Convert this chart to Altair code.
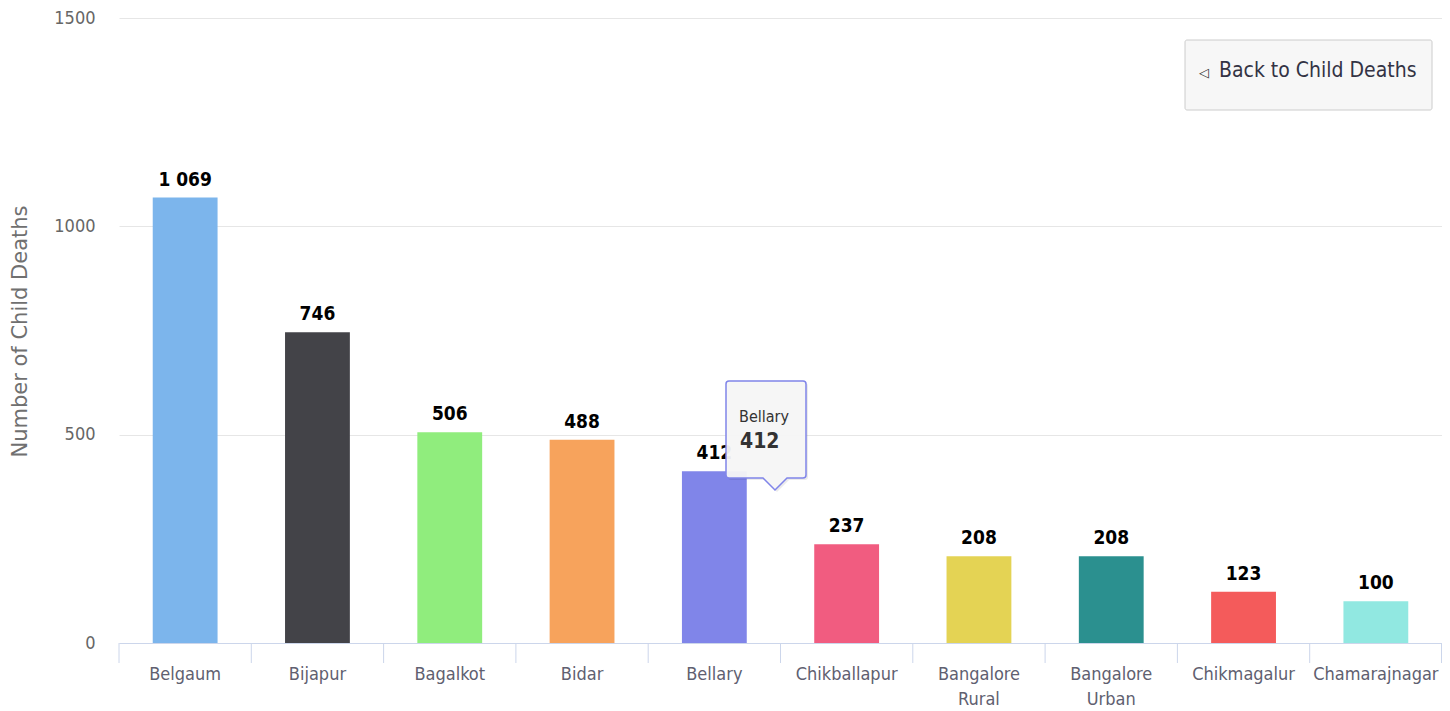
import altair as alt
import pandas as pd

categories = ["Belgaum", "Bijapur", "Bagalkot", "Bidar", "Bellary", "Chikballapur",
              "Bangalore Rural", "Bangalore Urban", "Chikmagalur", "Chamarajnagar"]
values = [1069, 746, 506, 488, 412, 237, 208, 208, 123, 100]
colors = ["#7cb5ec", "#434348", "#90ed7d", "#f7a35c", "#8085e9",
          "#f15c80", "#e4d354", "#2b908f", "#f45b5b", "#91e8e1"]
y_ticks = [0, 500, 1000, 1500]
y_title = "Number of Child Deaths"
button_label = "Back to Child Deaths"
tooltip_cat = "Bellary"
tooltip_val = 412

W, H = 1323, 625
STEP = W / len(categories)
FONT = "Liberation Sans Narrow, DejaVu Sans Condensed, Open Sans, sans-serif"

df = pd.DataFrame({"cat": categories, "v": values})

x_enc = alt.X("cat:N", sort=None,
              scale=alt.Scale(domain=categories, paddingInner=0.51, paddingOuter=0.255),
              axis=alt.Axis(title=None, labelAngle=0, ticks=False, domain=True,
                            domainColor="#ccd6eb", domainWidth=1,
                            labelFont=FONT, labelFontSize=18, labelColor="#606070",
                            labelPadding=22, labelLineHeight=25,
                            labelExpr="split(datum.label, ' ')"))
y_enc = alt.Y("v:Q", scale=alt.Scale(domain=[0, 1500], nice=False),
              axis=alt.Axis(values=y_ticks, format="d", ticks=False, domain=False, grid=True,
                            gridColor="#e6e6e6", gridWidth=1,
                            labelFont=FONT, labelFontSize=18, labelColor="#666666",
                            labelPadding=24, title=y_title, titleFont="DejaVu Sans",
                            titleFontSize=21, titleFontWeight="normal",
                            titleColor="#707070", titleX=-99, titleY=313,
                            titleAngle=270, titleAlign="center", titleBaseline="middle"))

base = alt.Chart(df)

bars = base.mark_bar().encode(
    x=x_enc, y=y_enc,
    color=alt.Color("cat:N", scale=alt.Scale(domain=categories, range=colors), legend=None),
)

labels = base.transform_calculate(
    lab="replace(format(datum.v, ','), ',', ' ')"
).mark_text(baseline="alphabetic", dy=-12, fontSize=19, fontWeight="bold",
            font=FONT, color="#000000").encode(
    x=alt.X("cat:N", sort=None), y="v:Q", text="lab:N")

ticks = base.mark_rule(color="#ccd6eb", strokeWidth=1, xOffset=-STEP / 2).encode(
    x=alt.X("cat:N", sort=None),
    y=alt.value(H), y2=alt.value(H + 20))

last_tick = alt.Chart(pd.DataFrame({"a": [0]})).mark_rule(
    color="#ccd6eb", strokeWidth=1).encode(
    x=alt.value(W - 0.5), y=alt.value(H), y2=alt.value(H + 20))

tip_df = pd.DataFrame({"cat": [tooltip_cat], "v": [tooltip_val]})
tip_path = ("M -37 -49 L 37 -49 Q 40 -49 40 -46 L 40 45 Q 40 48 37 48 L 21 48 "
            "L 9 60 L -3 48 L -37 48 Q -40 48 -40 45 L -40 -46 Q -40 -49 -37 -49 Z")
tip_shadow = alt.Chart(tip_df).mark_point(
    shape=tip_path, size=4, filled=True, fill="#000000", opacity=0.08, strokeWidth=0
).encode(x=alt.value(649), y=alt.value(414))
tip_box = alt.Chart(tip_df).mark_point(
    shape=tip_path, size=4, filled=True, fill="#f7f7f7", fillOpacity=0.95,
    stroke="#8085e9", strokeWidth=1.5, opacity=1
).encode(x=alt.value(647), y=alt.value(412))
tip_name = alt.Chart(tip_df).mark_text(
    align="left", baseline="middle", fontSize=16, font=FONT, color="#333333"
).encode(x=alt.value(620), y=alt.value(399), text="cat:N")
tip_val = alt.Chart(tip_df).mark_text(
    align="left", baseline="middle", fontSize=21, fontWeight="bold", font=FONT, color="#333333"
).encode(x=alt.value(621), y=alt.value(424), text="v:Q")

btn_df = pd.DataFrame({"t": [button_label]})
btn_rect = alt.Chart(btn_df).mark_rect(
    fill="#f7f7f7", stroke="#cccccc", strokeWidth=1, cornerRadius=2
).encode(x=alt.value(1066), x2=alt.value(1313), y=alt.value(22), y2=alt.value(92))
btn_arrow = alt.Chart(btn_df).mark_text(
    text="◁", fontSize=13, color="#333333", baseline="middle", align="left"
).encode(x=alt.value(1080), y=alt.value(55))
btn_text = alt.Chart(btn_df).mark_text(
    align="left", baseline="middle", fontSize=21, font=FONT, color="#333344"
).encode(x=alt.value(1100), y=alt.value(53), text="t:N")

chart = alt.layer(
    bars, labels, ticks, last_tick, tip_shadow, tip_box, tip_name, tip_val,
    btn_rect, btn_arrow, btn_text
).properties(
    width=W, height=H,
    background="#ffffff",
    autosize=alt.AutoSizeParams(type="none"),
    padding={"left": 111, "top": 10, "right": 0, "bottom": 68},
).configure_view(stroke="transparent", strokeWidth=0)

chart.save("out.html", embed_options={"renderer": "svg", "actions": False})
